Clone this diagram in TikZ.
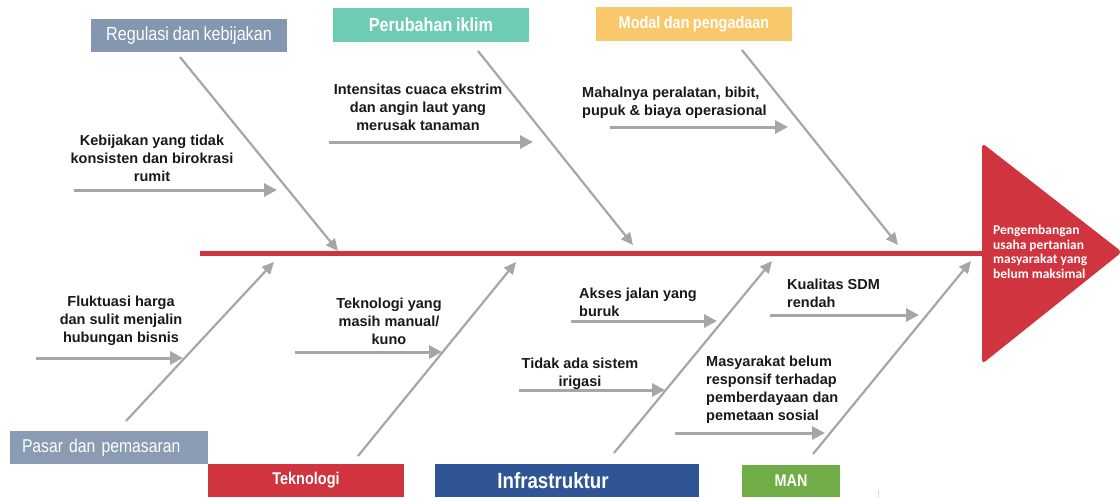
\documentclass[tikz,border=0pt]{standalone}
\usepackage{fontspec}
\setmainfont{Liberation Sans}
\newfontfamily\narrowfont[FakeStretch=0.85,WordSpace=0.85]{Liberation Sans}
\newfontfamily\headfont{Carlito}
\usetikzlibrary{arrows.meta}
\definecolor{slate}{HTML}{8497B0}
\definecolor{slatetwo}{HTML}{8A9BB4}
\definecolor{teal}{HTML}{6FCCB4}
\definecolor{amber}{HTML}{F8C86A}
\definecolor{crimson}{HTML}{D0343F}
\definecolor{navy}{HTML}{2F5597}
\definecolor{leaf}{HTML}{70AD47}
\definecolor{bonegray}{HTML}{A6A6A6}
\tikzset{
  catbox/.style={inner sep=0pt, text=white, minimum height=33pt},
  bone/.style={draw=bonegray, line width=2.2pt, -{Triangle[length=12pt,width=11pt]}},
  sub/.style={draw=bonegray, line width=3pt, -{Triangle[length=13pt,width=13pt]}},
  causetext/.style={inner sep=0pt, font=\bfseries\fontsize{14.5}{18}\selectfont, text=black!90},
  spine/.style={draw=crimson, line width=5pt}
}
\begin{document}
\begin{tikzpicture}[x=1pt,y=-1pt]
\useasboundingbox (0,0) rectangle (1120,498);
% category boxes
\node[catbox, fill=slate, minimum width=196pt, font=\narrowfont\fontsize{19}{22}\selectfont] (reg) at (189,35.5) {Regulasi dan kebijakan};
\node[catbox, fill=teal, minimum width=196pt, minimum height=34pt, font=\narrowfont\bfseries\fontsize{19}{22}\selectfont] (iklim) at (431,25) {Perubahan iklim};
\node[catbox, fill=amber, minimum width=196pt, minimum height=34pt, font=\narrowfont\bfseries\fontsize{17}{20}\selectfont] (modal) at (694,24) {Modal dan pengadaan};
\node[catbox, fill=slatetwo, minimum width=198pt, font=\narrowfont\fontsize{18.5}{22}\selectfont, text width=174pt, align=left] (pasar) at (109,447.5) {Pasar dan pemasaran};
\node[catbox, fill=crimson, minimum width=196pt, font=\narrowfont\bfseries\fontsize{17}{20}\selectfont] (tek) at (306,480.5) {Teknologi};
\node[catbox, fill=navy, minimum width=264pt] (infra) at (567,480.5) {};
\node[inner sep=0pt, text=white, font=\narrowfont\bfseries\fontsize{22}{24}\selectfont] (infratext) at (553,480.5) {Infrastruktur};
\node[catbox, fill=leaf, minimum width=98pt, minimum height=32pt, font=\narrowfont\bfseries\fontsize{17}{20}\selectfont] (man) at (791,481) {MAN};
% head
\fill[crimson, rounded corners=4pt] (982,143) -- (1122,252) -- (982,364) -- cycle;
\node[inner sep=0pt, anchor=west, align=left, text=white, font=\headfont\bfseries\fontsize{13.5}{14.5}\selectfont] (head) at (993,252) {Pengembangan\\usaha pertanian\\masyarakat yang\\belum maksimal};
% spine
\coordinate (tail) at (200,253);
\coordinate (spineend) at (984,253);
\draw[spine] (tail) -- (spineend);
% bone coordinates
\coordinate (b1s) at (180,57);  \coordinate (b1e) at (338,251);
\coordinate (b2s) at (478,51);  \coordinate (b2e) at (633,245);
\coordinate (b3s) at (742,50);  \coordinate (b3e) at (898,245);
\coordinate (b4s) at (126,421); \coordinate (b4e) at (274,262);
\coordinate (b5s) at (358,456); \coordinate (b5e) at (516,262);
\coordinate (b6s) at (614,453); \coordinate (b6e) at (772,261);
\coordinate (b7s) at (813,454); \coordinate (b7e) at (971,261);
\draw[bone] (b1s) -- (b1e);
\draw[bone] (b2s) -- (b2e);
\draw[bone] (b3s) -- (b3e);
\draw[bone] (b4s) -- (b4e);
\draw[bone] (b5s) -- (b5e);
\draw[bone] (b6s) -- (b6e);
\draw[bone] (b7s) -- (b7e);
% sub causes
\node[causetext, align=center] (c1) at (152,158) {Kebijakan yang tidak\\konsisten dan birokrasi\\rumit};
\coordinate (a1s) at (74,190); \coordinate (a1e) at (277,190);
\draw[sub] (a1s) -- (a1e);
\node[causetext, align=center] (c2) at (418,107) {Intensitas cuaca ekstrim\\dan angin laut yang\\merusak tanaman};
\coordinate (a2s) at (329,142); \coordinate (a2e) at (533,142);
\draw[sub] (a2s) -- (a2e);
\node[causetext, align=left, anchor=west] (c3) at (582,102.5) {Mahalnya peralatan, bibit,\\pupuk \& biaya operasional};
\coordinate (a3s) at (610,127); \coordinate (a3e) at (788,127);
\draw[sub] (a3s) -- (a3e);
\node[causetext, align=center] (c4) at (121,321) {Fluktuasi harga\\dan sulit menjalin\\hubungan bisnis};
\coordinate (a4s) at (36,358); \coordinate (a4e) at (183,358);
\draw[sub] (a4s) -- (a4e);
\node[causetext, align=center] (c5) at (389,321) {Teknologi yang\\masih manual/\\kuno};
\coordinate (a5s) at (295,352); \coordinate (a5e) at (442,352);
\draw[sub] (a5s) -- (a5e);
\node[causetext, align=left, anchor=west] (c6) at (579,302) {Akses jalan yang\\buruk};
\coordinate (a6s) at (571,321); \coordinate (a6e) at (717,321);
\draw[sub] (a6s) -- (a6e);
\node[causetext, align=center] (c7) at (580,373.5) {Tidak ada sistem\\irigasi};
\coordinate (a7s) at (519,390); \coordinate (a7e) at (665,390);
\draw[sub] (a7s) -- (a7e);
\node[causetext, align=left, anchor=west] (c8) at (787,293.5) {Kualitas SDM\\rendah};
\coordinate (a8s) at (770,315); \coordinate (a8e) at (919,315);
\draw[sub] (a8s) -- (a8e);
\node[causetext, align=left, anchor=west] (c9) at (706,390) {Masyarakat belum\\responsif terhadap\\pemberdayaan dan\\pemetaan sosial};
\coordinate (a9s) at (675,433); \coordinate (a9e) at (825,433);
\draw[sub] (a9s) -- (a9e);
% faint mark
\coordinate (m1) at (878,490); \coordinate (m2) at (878,498);
\draw[black!15, line width=1pt] (m1) -- (m2);
\end{tikzpicture}
\end{document}
